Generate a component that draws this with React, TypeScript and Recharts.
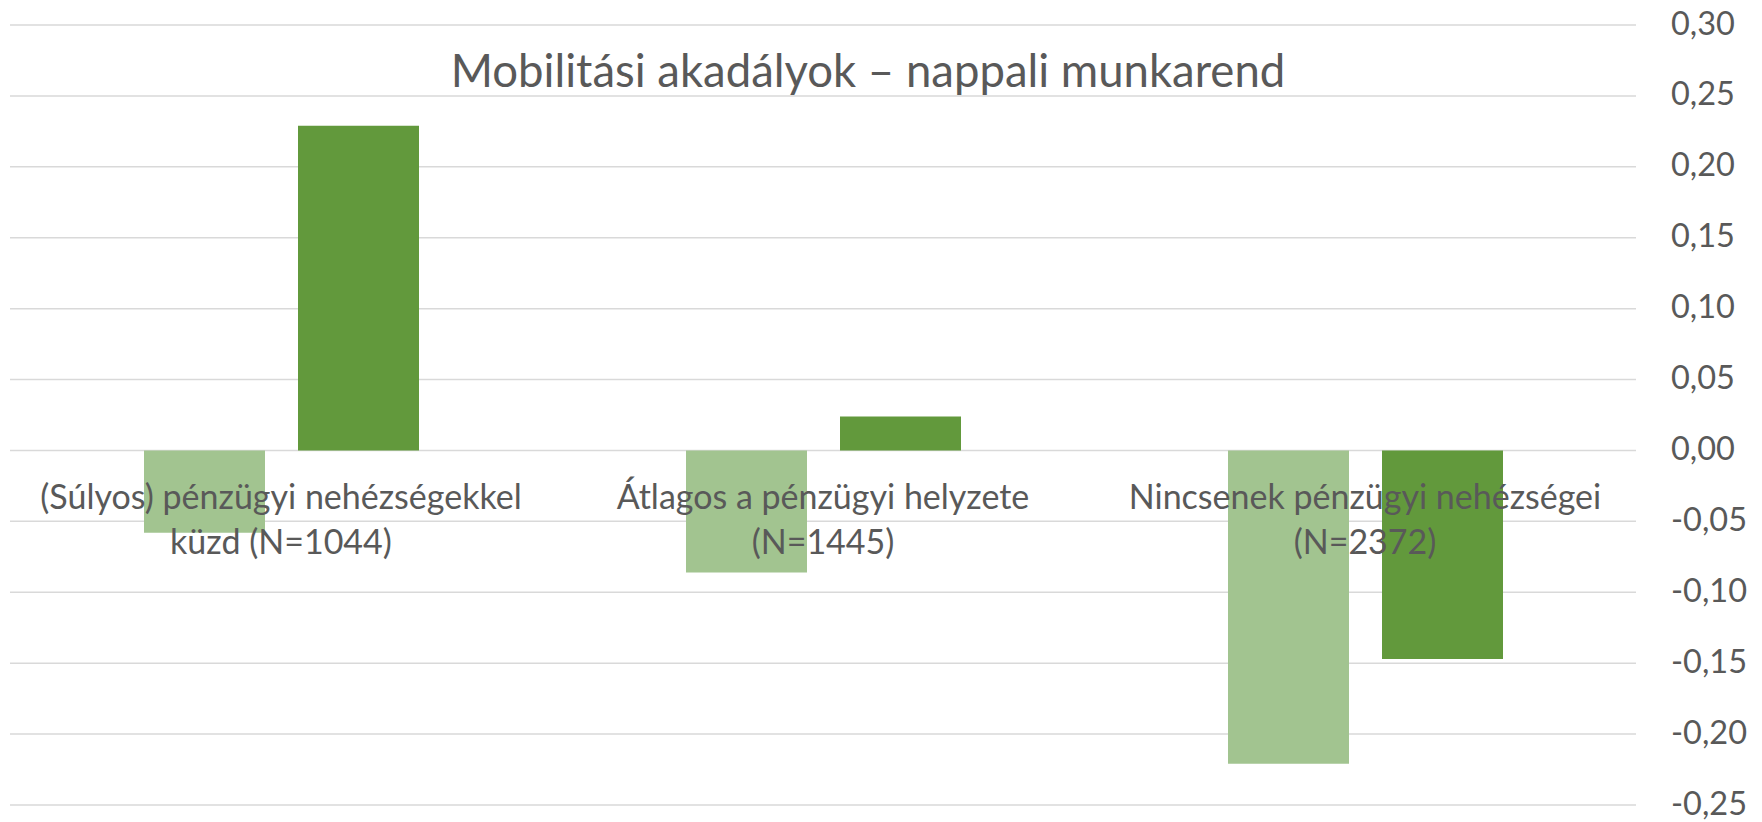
import React from "react"
import { BarChart, Bar, XAxis, YAxis, CartesianGrid, ReferenceDot } from "recharts"

// page reset, the chart fills the window
document.body.style.margin = "0"

const TITLE = "Mobilitási akadályok – nappali munkarend"

const categories = ["cat1", "cat2", "cat3"]
const categoryLines = [
  ["(Súlyos) pénzügyi nehézségekkel", "küzd (N=1044)"],
  ["Átlagos a pénzügyi helyzete", "(N=1445)"],
  ["Nincsenek pénzügyi nehézségei", "(N=2372)"],
]

const lightValues = [-0.058, -0.086, -0.221]
const darkValues = [0.229, 0.024, -0.147]

const yTicks = [-0.25, -0.2, -0.15, -0.1, -0.05, 0, 0.05, 0.1, 0.15, 0.2, 0.25, 0.3]

const data = categories.map((c, i) => ({
  name: c,
  light: lightValues[i],
  dark: darkValues[i],
}))

const FONT = "Lato, 'Open Sans', sans-serif"
const TEXT = "#595959"

const fmt = (v: number) => v.toFixed(2).replace(".", ",")

function CategoryLabel(props: any) {
  const { viewBox, lines } = props
  const cx = viewBox.x + viewBox.width / 2
  const cy = viewBox.y + viewBox.height / 2
  return (
    <text x={cx} y={cy} textAnchor="middle" fill={TEXT} fontFamily={FONT} fontSize={34}>
      <tspan x={cx} y={cy + 59}>{lines[0]}</tspan>
      <tspan x={cx} y={cy + 104}>{lines[1]}</tspan>
    </text>
  )
}

export default function App() {
  return (
    <div style={{ position: "relative", width: 1762, height: 822, background: "#fff" }}>
      <BarChart
        width={1762}
        height={822}
        data={data}
        margin={{ top: 25, right: 6, left: 10, bottom: 17 }}
        barSize={121}
        barGap={33}
      >
        <CartesianGrid vertical={false} stroke="#D9D9D9" strokeWidth={1.5} />
        <XAxis dataKey="name" hide />
        <YAxis
          orientation="right"
          width={120}
          domain={[-0.25, 0.3]}
          ticks={yTicks}
          tickFormatter={fmt}
          axisLine={false}
          tickLine={false}
          tickSize={0}
          tickMargin={35}
          tick={{ fill: TEXT, fontSize: 32.5, fontFamily: FONT, textAnchor: "start", dy: -2 }}
          interval={0}
        />
        <Bar dataKey="light" fill="#A2C490" isAnimationActive={false} />
        <Bar dataKey="dark" fill="#62993C" isAnimationActive={false} />
        {categories.map((c, i) => (
          <ReferenceDot
            key={c}
            x={c}
            y={0}
            r={0}
            fill="none"
            stroke="none"
            label={{ content: (p: any) => <CategoryLabel {...p} lines={categoryLines[i]} /> }}
          />
        ))}
      </BarChart>
      <svg width={1762} height={822} style={{ position: "absolute", left: 0, top: 0, pointerEvents: "none" }}>
        <text x={868} y={87} textAnchor="middle" fill={TEXT} fontFamily={FONT} fontSize={45.5}>
          {TITLE}
        </text>
      </svg>
    </div>
  )
}
